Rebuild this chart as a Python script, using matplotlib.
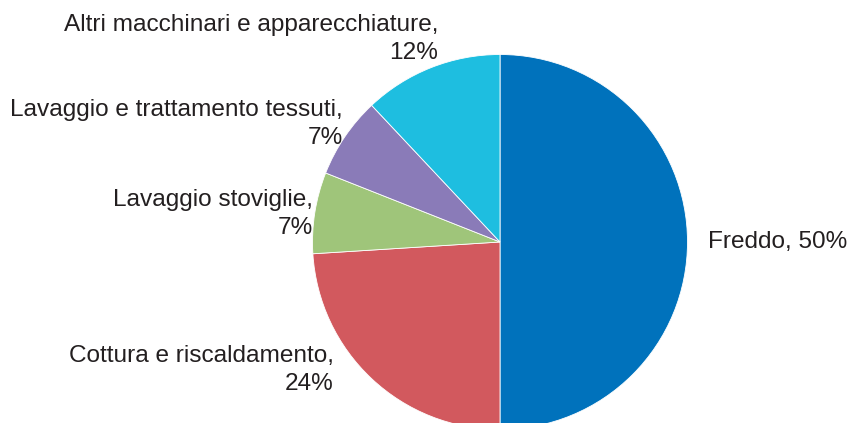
import matplotlib
matplotlib.use("Agg")
import matplotlib.pyplot as plt

labels = ["Freddo", "Cottura e riscaldamento", "Lavaggio stoviglie",
          "Lavaggio e trattamento tessuti", "Altri macchinari e apparecchiature"]
shares = [50, 24, 7, 7, 12]
colors = ["#0072BC", "#D2595E", "#9FC57A", "#8A7BB8", "#1EBEE0"]

# label anchor points in pixels (x, y from top), and alignment
label_pos = [(708, 242, "left"), (334, 370, "right"), (313, 214, "right"),
             (343, 124, "right"), (438, 39, "right")]

W, H = 851, 423
cx, cy, r = 500, 242, 187.5

fig = plt.figure(figsize=(W / 100, H / 100), dpi=100)
ax = fig.add_axes([0, 0, 1, 1])
ax.pie(shares, colors=colors, startangle=90, counterclock=False,
       radius=1, center=(0, 0),
       wedgeprops=dict(linewidth=0.6, edgecolor="white"))
ax.set_xlim(-cx / r, (W - cx) / r)
ax.set_ylim(-(H - cy) / r, cy / r)
ax.set_aspect("equal")
ax.axis("off")

for name, val, (px, py, ha) in zip(labels, shares, label_pos):
    if ha == "left":
        txt = f"{name}, {val}%"
    else:
        txt = f"{name},\n{val}%"
    ax.text(px / W, 1 - py / H, txt, transform=ax.transAxes, ha=ha,
            va="center", multialignment="right", fontsize=17.6,
            family="Liberation Sans", color="#231F20", linespacing=1.4)

fig.savefig("out.png", dpi=100)
